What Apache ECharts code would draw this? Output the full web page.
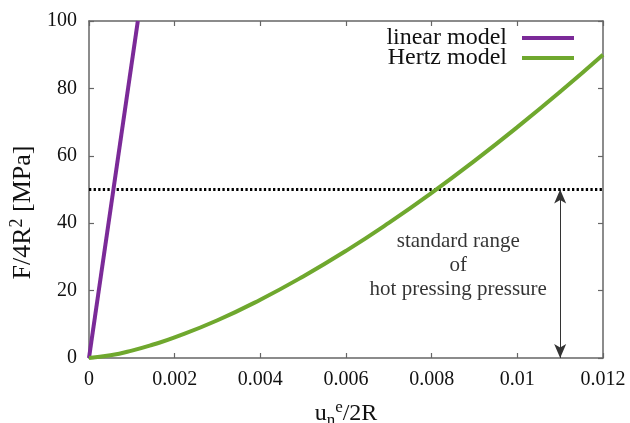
<!DOCTYPE html>
<html>
<head>
<meta charset="utf-8">
<script src="https://cdn.jsdelivr.net/npm/echarts@6/dist/echarts.min.js"></script>
<style>
  html, body { margin: 0; padding: 0; background: #fff; }
  #myChart { width: 630px; height: 423px; }
</style>
</head>
<body>
<div id="myChart"></div>
<script>
// data
const linearX = [0, 0.00114];
const linearY = [0, 100];
const hertzX = [0, 0.0005, 0.001, 0.0015, 0.002, 0.003, 0.004, 0.005, 0.006, 0.007, 0.008, 0.009, 0.01, 0.011, 0.012];
const hertzY = [0, 0.8, 2.2, 4.0, 6.1, 11.2, 17.3, 24.2, 31.8, 40.1, 49.0, 58.5, 68.5, 79.0, 90.0];
const rangeLevel = 50;        // dotted line
const arrowX = 0.011;         // double arrow position
const xTickLabels = ['0', '0.002', '0.004', '0.006', '0.008', '0.01', '0.012'];
const yTickLabels = ['0', '20', '40', '60', '80', '100'];

const FONT = 'Liberation Serif';
const axisColor = '#666';

function pairs(xs, ys) {
  return xs.map((x, i) => [x, ys[i]]);
}

let myChart = echarts.init(document.getElementById('myChart'));

let option = {
  animation: false,
  backgroundColor: '#fff',
  textStyle: { fontFamily: FONT, color: '#111' },
  grid: { left: 89, right: 27, top: 21, bottom: 65, outerBoundsMode: 'none', containLabel: false },
  legend: {
    orient: 'vertical',
    right: 51,
    top: 21,
    align: 'right',
    itemGap: -4,
    itemWidth: 52,
    itemHeight: 4,
    icon: 'rect',
    textStyle: { fontFamily: FONT, fontSize: 24, color: '#111', lineHeight: 20, padding: [0, 10, 0, 0] },
    data: ['linear model', 'Hertz model']
  },
  xAxis: [{
    type: 'value',
    min: 0,
    max: 0.012,
    interval: 0.002,
    name: '{t|u}{sub|n}{sup|e}{t|/2R}',
    nameLocation: 'middle',
    nameGap: 41,
    nameTextStyle: {
      rich: {
        t: { fontFamily: FONT, fontSize: 24, color: '#111', verticalAlign: 'middle', lineHeight: 30 },
        sub: { fontFamily: FONT, fontSize: 17, color: '#111', verticalAlign: 'bottom', lineHeight: 30 },
        sup: { fontFamily: FONT, fontSize: 17, color: '#111', verticalAlign: 'top', lineHeight: 30 }
      }
    },
    axisLine: { onZero: false, lineStyle: { color: axisColor, width: 1.5 } },
    axisTick: { inside: true, length: 5, lineStyle: { color: axisColor, width: 1.2 } },
    axisLabel: {
      margin: 12,
      fontFamily: FONT,
      fontSize: 20,
      color: '#111',
      formatter: v => xTickLabels[Math.round(v / 0.002)]
    },
    splitLine: { show: false }
  }, {
    type: 'value',
    position: 'top',
    min: 0,
    max: 0.012,
    interval: 0.002,
    axisLine: { show: true, onZero: false, lineStyle: { color: axisColor, width: 1.5 } },
    axisTick: { show: true, inside: true, length: 5, lineStyle: { color: axisColor, width: 1.2 } },
    axisLabel: { show: false },
    splitLine: { show: false }
  }],
  yAxis: [{
    type: 'value',
    min: 0,
    max: 100,
    interval: 20,
    name: '{t|F/4R}{sup|2}{t| [MPa]}',
    nameLocation: 'middle',
    nameRotate: 90,
    nameGap: 33,
    nameTextStyle: {
      padding: [0, 46, 0, 0],
      rich: {
        t: { fontFamily: FONT, fontSize: 26, color: '#111', verticalAlign: 'middle', lineHeight: 30 },
        sup: { fontFamily: FONT, fontSize: 18, color: '#111', verticalAlign: 'top', lineHeight: 30 }
      }
    },
    axisLine: { show: true, onZero: false, lineStyle: { color: axisColor, width: 1.5 } },
    axisTick: { show: true, inside: true, length: 5, lineStyle: { color: axisColor, width: 1.2 } },
    axisLabel: {
      margin: 12,
      fontFamily: FONT,
      fontSize: 20,
      color: '#111',
      formatter: v => yTickLabels[Math.round(v / 20)]
    },
    splitLine: { show: false }
  }, {
    type: 'value',
    position: 'right',
    min: 0,
    max: 100,
    interval: 20,
    axisLine: { show: true, onZero: false, lineStyle: { color: axisColor, width: 1.5 } },
    axisTick: { show: true, inside: true, length: 5, lineStyle: { color: axisColor, width: 1.2 } },
    axisLabel: { show: false },
    splitLine: { show: false }
  }],
  series: [
    {
      name: 'linear model',
      type: 'line',
      data: pairs(linearX, linearY),
      showSymbol: false,
      itemStyle: { color: '#7b2a98' },
      lineStyle: { color: '#7b2a98', width: 4 },
      z: 5
    },
    {
      name: 'Hertz model',
      type: 'line',
      data: pairs(hertzX, hertzY),
      smooth: true,
      showSymbol: false,
      itemStyle: { color: '#6fa82e' },
      lineStyle: { color: '#6fa82e', width: 4 },
      z: 5
    },
    {
      name: 'range',
      type: 'line',
      data: [[0, rangeLevel], [0.012, rangeLevel]],
      showSymbol: false,
      lineStyle: { color: '#000', width: 3, type: [2.3, 2.3] },
      silent: true,
      z: 3,
      markLine: {
        silent: true,
        symbol: ['arrow', 'arrow'],
        symbolSize: [9, 14],
        label: { show: false },
        lineStyle: { color: '#333', width: 1, type: 'solid' },
        itemStyle: { color: '#000' },
        data: [[{ coord: [arrowX, rangeLevel] }, { coord: [arrowX, 0] }]]
      }
    },
    {
      name: 'note',
      type: 'scatter',
      data: [[0.00862, 27.6]],
      symbolSize: 0,
      silent: true,
      label: {
        show: true,
        position: 'inside',
        fontFamily: FONT,
        fontSize: 21,
        lineHeight: 24,
        color: '#000',
        align: 'center',
        formatter: 'standard range\nof\nhot pressing pressure'
      }
    }
  ]
};

myChart.setOption(option);
</script>
</body>
</html>
